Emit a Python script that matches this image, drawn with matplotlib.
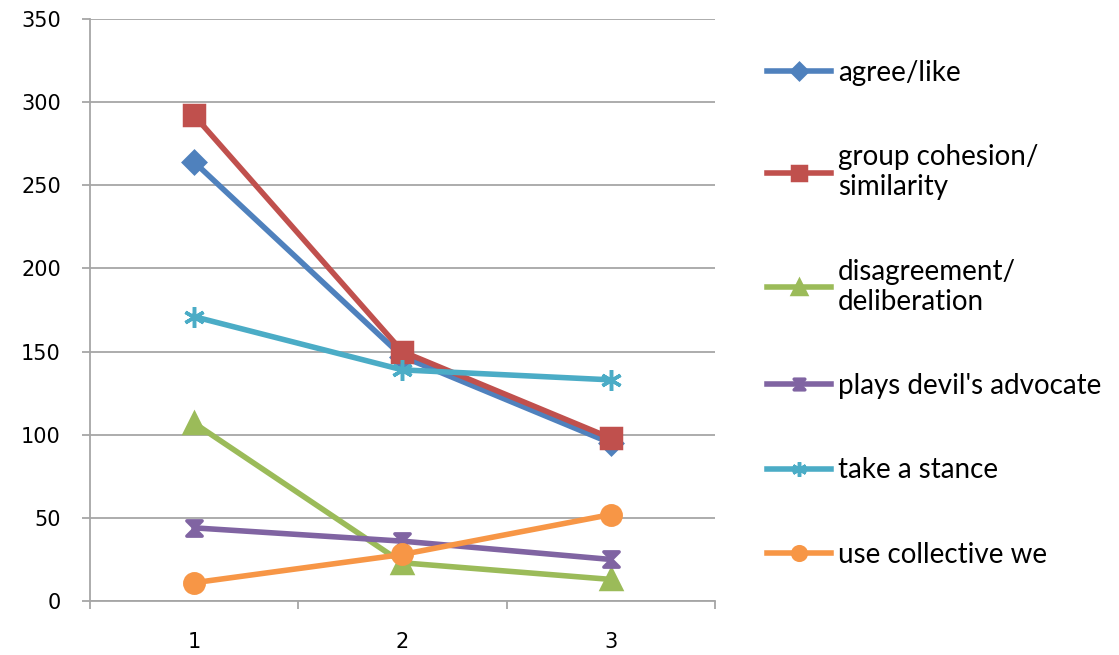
import matplotlib
matplotlib.use("Agg")
import matplotlib.pyplot as plt
from matplotlib.path import Path

# data
categories = [1, 2, 3]
agree_like = [264, 147, 95]
group_cohesion = [292, 150, 98]
disagreement = [107, 23, 13]
devils_advocate = [44, 36, 25]
take_stance = [171, 139, 133]
collective_we = [11, 28, 52]

labels = ["agree/like", "group cohesion/\nsimilarity", "disagreement/\ndeliberation",
          "plays devil's advocate", "take a stance", "use collective we"]

# hourglass marker, like the Excel "x" marker
hourglass = Path([(-1, 1), (1, 1), (-1, -1), (1, -1), (-1, 1)],
                 [Path.MOVETO, Path.LINETO, Path.LINETO, Path.LINETO, Path.CLOSEPOLY])

series = [
    (agree_like, "#4F81BD", "D", 11),
    (group_cohesion, "#C0504D", "s", 15),
    (disagreement, "#9BBB59", "^", 15),
    (devils_advocate, "#8064A2", hourglass, 11),
    (take_stance, "#4BACC6", (6, 2, 0), 15),
    (collective_we, "#F79646", "o", 14),
]

fig = plt.figure(figsize=(11.19, 6.55), dpi=100)
ax = fig.add_axes([0.0804, 0.0824, 0.5585, 0.8886])

for (vals, col, mk, ms), lab in zip(series, labels):
    ax.plot(categories, vals, color=col, lw=4, marker=mk, markersize=ms,
            markerfacecolor=col, markeredgecolor=col, markeredgewidth=2.5,
            label=lab, solid_joinstyle="round")

ax.set_xlim(0.5, 3.5)
ax.set_ylim(0, 350)
ax.set_yticks(range(0, 351, 50))
ax.yaxis.grid(True, color="#A6A6A6", lw=1.3)
ax.set_axisbelow(True)

# category boundaries as major ticks, labels on minor ticks
ax.set_xticks([0.5, 1.5, 2.5, 3.5])
ax.set_xticklabels([])
ax.set_xticks(categories, minor=True)
ax.set_xticklabels([str(c) for c in categories], minor=True)
ax.tick_params(axis="x", which="minor", length=0, pad=22, labelsize=15)
ax.tick_params(axis="x", which="major", length=6, color="#A6A6A6", width=1.3)
ax.tick_params(axis="y", length=6, color="#A6A6A6", width=1.3, labelsize=15, pad=15)

for s in ["top", "right"]:
    ax.spines[s].set_visible(False)
for s in ["left", "bottom"]:
    ax.spines[s].set_color("#A6A6A6")
    ax.spines[s].set_linewidth(1.3)

leg = ax.legend(loc="upper left", bbox_to_anchor=(1.083, 0.93), frameon=False,
                prop={"family": "Lato", "size": 20}, handlelength=2.3,
                handletextpad=0.25, labelspacing=2.1, markerscale=0.7,
                borderpad=0, borderaxespad=0)

fig.savefig("out.png", dpi=100)
